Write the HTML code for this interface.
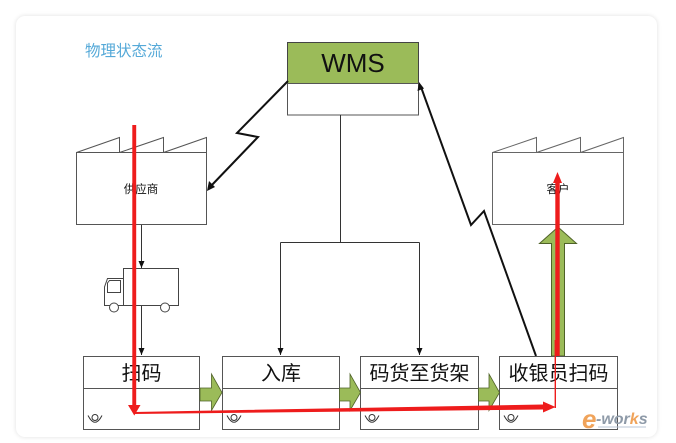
<!DOCTYPE html>
<html><head><meta charset="utf-8">
<style>
html,body{margin:0;padding:0;background:#fff;}
body{width:676px;height:443px;position:relative;overflow:hidden;}
.card{position:absolute;left:16px;top:16px;width:641px;height:421px;background:#fff;border-radius:9px;box-shadow:0 0 5px rgba(0,0,0,0.13);}
svg{position:absolute;left:0;top:0;}
text{font-family:"Liberation Sans","Noto Sans CJK SC",sans-serif;}
</style></head>
<body>
<div class="card"></div>
<svg width="676" height="443" viewBox="0 0 676 443" xmlns="http://www.w3.org/2000/svg">
<defs>
<marker id="ah" markerWidth="8" markerHeight="8" refX="7" refY="4" orient="auto" markerUnits="userSpaceOnUse">
<path d="M0,1 L7,4 L0,7 Z" fill="#111"/>
</marker>
</defs>
<!-- title -->
<text x="85" y="56" font-size="15.5" fill="#55a9d8">物理状态流</text>

<!-- WMS -->
<rect x="287.5" y="42.5" width="131" height="41" fill="#9bbb59" stroke="#444" stroke-width="1"/>
<rect x="287.5" y="83.5" width="131" height="31.5" fill="#fff" stroke="#555" stroke-width="1"/>
<text x="353" y="72" font-size="26" text-anchor="middle" fill="#111">WMS</text>

<!-- Supplier factory -->
<g fill="#fff" stroke="#555" stroke-width="1">
<path d="M76.5,152.5 L119.5,137.5 L119.5,152.5 L163.5,137.5 L163.5,152.5 L206.5,137.5 L206.5,152.5 Z"/>
<rect x="76.5" y="152.5" width="130" height="72"/>
</g>
<text x="141" y="193" font-size="11.5" text-anchor="middle" fill="#111">供应商</text>

<!-- Customer factory -->
<g fill="#fff" stroke="#666" stroke-width="1">
<path d="M492.5,152.5 L536.5,137.5 L536.5,152.5 L580.5,137.5 L580.5,152.5 L623.5,137.5 L623.5,152.5 Z"/>
<rect x="492.5" y="152.5" width="131" height="72"/>
</g>
<text x="558" y="193" font-size="11.5" text-anchor="middle" fill="#111">客户</text>

<!-- WMS tree connectors -->
<g stroke="#333" stroke-width="1" fill="none">
<line x1="340.5" y1="115" x2="340.5" y2="242.5"/>
<line x1="280.5" y1="242.5" x2="419.5" y2="242.5"/>
<line x1="280.5" y1="242.5" x2="280.5" y2="355" marker-end="url(#ah)"/>
<line x1="419.5" y1="242.5" x2="419.5" y2="355" marker-end="url(#ah)"/>
<line x1="141.5" y1="225" x2="141.5" y2="268" marker-end="url(#ah)"/>
<line x1="141.5" y1="306" x2="141.5" y2="355" marker-end="url(#ah)"/>
</g>

<!-- truck -->
<g fill="#fff" stroke="#444" stroke-width="1">
<rect x="123.5" y="268.5" width="55" height="37"/>
<path d="M123.5,305.5 L104.5,305.5 L104.5,287 L107.5,278.5 L123.5,278.5 Z"/>
<path d="M107.5,292.5 L107.5,283 L109.5,280.5 L120.5,280.5 L120.5,292.5 Z"/>
<circle cx="114" cy="307.5" r="4.5"/>
<circle cx="165" cy="307.5" r="4.5"/>
</g>

<!-- zigzag WMS -> supplier -->
<polyline points="288,81 237,133 258,137 210,187" fill="none" stroke="#111" stroke-width="2"/>
<path d="M207,191 L209,181 L215,187 Z" fill="#111"/>

<!-- zigzag checkout -> WMS -->
<polyline points="536,356 484,211 471,225 421,87" fill="none" stroke="#111" stroke-width="2"/>
<path d="M419,82 L417.5,91 L424,88.5 Z" fill="#111"/>

<!-- green up arrow -->
<path d="M551.5,356 L551.5,243.5 L539.5,243.5 L558,227 L576.5,243.5 L564.5,243.5 L564.5,356 Z" fill="#9bbb59" stroke="#4f6228" stroke-width="1"/>

<!-- process boxes -->
<g fill="#fff" stroke="#555" stroke-width="1">
<rect x="83.5" y="356.5" width="116" height="73"/>
<line x1="83.5" y1="388.5" x2="199.5" y2="388.5"/>
<rect x="222.5" y="356.5" width="117" height="73"/>
<line x1="222.5" y1="388.5" x2="339.5" y2="388.5"/>
<rect x="360.5" y="356.5" width="118" height="73"/>
<line x1="360.5" y1="388.5" x2="478.5" y2="388.5"/>
<rect x="499.5" y="356.5" width="118" height="73"/>
<line x1="499.5" y1="388.5" x2="617.5" y2="388.5"/>
</g>
<g font-size="20" text-anchor="middle" fill="#111">
<text x="141.5" y="380">扫码</text>
<text x="281" y="380">入库</text>
<text x="419.5" y="380">码货至货架</text>
<text x="558.5" y="380">收银员扫码</text>
</g>

<!-- operator icons -->
<g fill="none" stroke="#333" stroke-width="1">
<circle cx="95" cy="417.5" r="3"/><path d="M88,415.5 Q95,429 102,415.5"/>
<circle cx="234" cy="417.5" r="3"/><path d="M227,415.5 Q234,429 241,415.5"/>
<circle cx="372" cy="417.5" r="3"/><path d="M365,415.5 Q372,429 379,415.5"/>
<circle cx="511" cy="417.5" r="3"/><path d="M504,415.5 Q511,429 518,415.5"/>
</g>

<!-- green push arrows -->
<g fill="#9bbb59" stroke="#4f6228" stroke-width="0.8">
<path d="M200,388 L211.5,388 L211.5,374 L222,392.5 L211.5,410.5 L211.5,401 L200,401 Z"/>
<path d="M339.5,388 L350,388 L350,374 L360.5,392.5 L350,410.5 L350,401 L339.5,401 Z"/>
<path d="M478.5,388 L489,388 L489,374 L499.5,392.5 L489,410.5 L489,401 L478.5,401 Z"/>
</g>

<!-- red flow -->
<g fill="#ee1c1c">
<path d="M132.3,125 L136.2,125 L136.2,405 L140.5,405 L134.3,415.5 L128,405 L132.3,405 Z"/>
<path d="M134,412 L543,404.5 L543,401.5 L555.5,407 L543,412.5 L543,409.5 L134,414 Z"/>
<rect x="554.6" y="340" width="1.4" height="68"/>
<path d="M555.3,356 L555.3,183 L553,183 L557.5,172 L562,183 L559.7,183 L559.7,356 Z"/>
</g>

<!-- e-works logo -->
<g font-style="italic" font-weight="bold">
<text x="582" y="428" font-size="26" fill="#f0a35a" font-family="Liberation Serif,serif">e</text>
<text x="596" y="424" font-size="16" fill="#8e9aa8" font-family="Liberation Serif,serif">-wor<tspan fill="#f0a35a">k</tspan>s</text>
</g>
<line x1="598" y1="427" x2="646" y2="427" stroke="#b8c4d6" stroke-width="1"/>
</svg>
</body></html>
